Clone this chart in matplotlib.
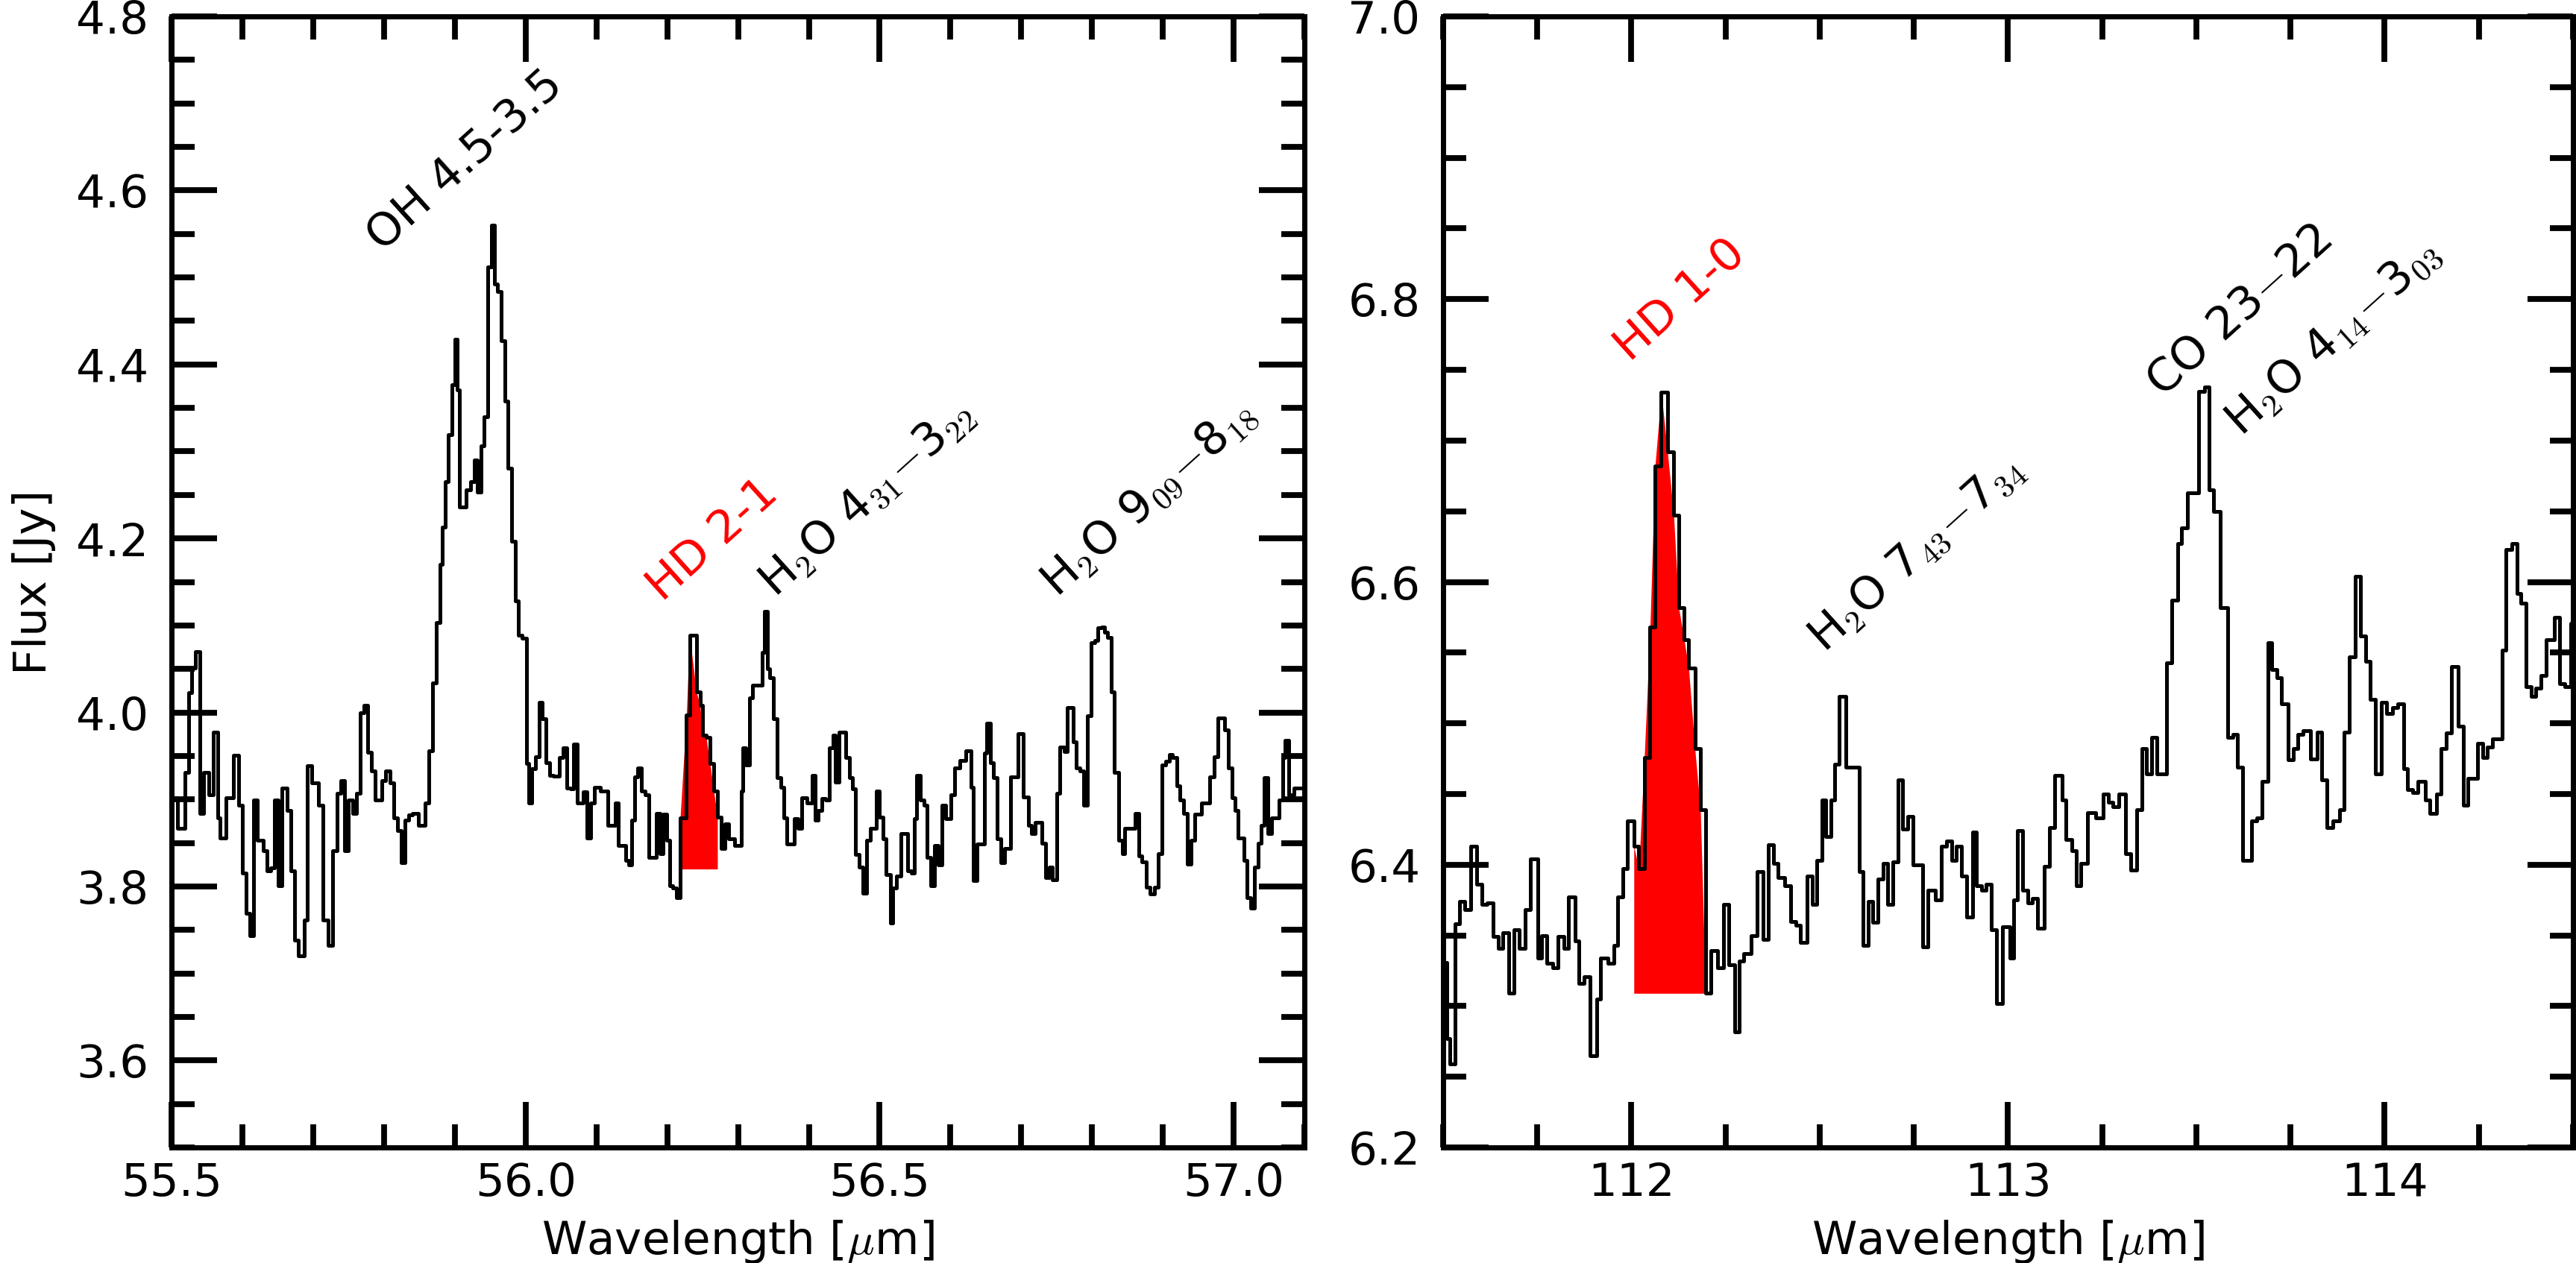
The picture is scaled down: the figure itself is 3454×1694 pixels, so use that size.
import numpy as np
import matplotlib
matplotlib.use("Agg")
import matplotlib.pyplot as plt
from matplotlib.ticker import MultipleLocator, FormatStrFormatter

plt.rcParams['font.family'] = ['DejaVu Sans']
plt.rcParams['mathtext.fontset'] = 'cm'

# --- left panel: 55.5 - 57.1 um (left edge of each step, flux in Jy) ---
wave_56 = [
    55.5000, 55.5088, 55.5193, 55.5246, 55.5288, 55.5333, 55.5404, 55.5456, 55.5526, 55.5589,
    55.5649, 55.5684, 55.5772, 55.5870, 55.5947, 55.6000, 55.6053, 55.6105, 55.6158, 55.6211,
    55.6298, 55.6351, 55.6404, 55.6456, 55.6509, 55.6561, 55.6632, 55.6684, 55.6737, 55.6789,
    55.6877, 55.6912, 55.6982, 55.7070, 55.7140, 55.7211, 55.7274, 55.7333, 55.7386, 55.7439,
    55.7491, 55.7561, 55.7614, 55.7667, 55.7719, 55.7772, 55.7825, 55.7877, 55.7965, 55.8018,
    55.8088, 55.8140, 55.8193, 55.8246, 55.8298, 55.8351, 55.8404, 55.8491, 55.8579, 55.8632,
    55.8684, 55.8737, 55.8789, 55.8825, 55.8860, 55.8912, 55.8965, 55.9000, 55.9035, 55.9067,
    55.9165, 55.9218, 55.9271, 55.9323, 55.9369, 55.9418, 55.9464, 55.9516, 55.9562, 55.9604,
    55.9657, 55.9709, 55.9755, 55.9804, 55.9853, 55.9902, 55.9951, 56.0008, 56.0043, 56.0088,
    56.0137, 56.0190, 56.0239, 56.0288, 56.0341, 56.0394, 56.0481, 56.0534, 56.0586, 56.0639,
    56.0681, 56.0727, 56.0815, 56.0867, 56.0920, 56.0972, 56.1060, 56.1165, 56.1264, 56.1306,
    56.1411, 56.1457, 56.1499, 56.1544, 56.1586, 56.1639, 56.1692, 56.1744, 56.1850, 56.1895,
    56.1937, 56.1990, 56.2036, 56.2078, 56.2130, 56.2183, 56.2271, 56.2316, 56.2411, 56.2464,
    56.2499, 56.2551, 56.2604, 56.2657, 56.2709, 56.2762, 56.2815, 56.2867, 56.2955, 56.3043,
    56.3067, 56.3113, 56.3165, 56.3208, 56.3341, 56.3369, 56.3418, 56.3446, 56.3499, 56.3551,
    56.3604, 56.3650, 56.3692, 56.3797, 56.3850, 56.3902, 56.3972, 56.4043, 56.4085, 56.4130,
    56.4183, 56.4236, 56.4288, 56.4341, 56.4376, 56.4429, 56.4516, 56.4569, 56.4611, 56.4657,
    56.4709, 56.4762, 56.4815, 56.4867, 56.4955, 56.4997, 56.5043, 56.5095, 56.5148, 56.5183,
    56.5236, 56.5299, 56.5393, 56.5446, 56.5488, 56.5523, 56.5579, 56.5622, 56.5674, 56.5727,
    56.5779, 56.5832, 56.5885, 56.5937, 56.6008, 56.6060, 56.6130, 56.6218, 56.6288, 56.6323,
    56.6376, 56.6481, 56.6516, 56.6569, 56.6604, 56.6657, 56.6709, 56.6762, 56.6850, 56.6955,
    56.7032, 56.7102, 56.7148, 56.7201, 56.7288, 56.7341, 56.7394, 56.7439, 56.7499, 56.7544,
    56.7604, 56.7650, 56.7737, 56.7779, 56.7832, 56.7885, 56.7930, 56.7990, 56.8043, 56.8085,
    56.8130, 56.8176, 56.8218, 56.8271, 56.8316, 56.8376, 56.8429, 56.8464, 56.8604, 56.8657,
    56.8702, 56.8762, 56.8815, 56.8885, 56.8937, 56.8983, 56.9043, 56.9088, 56.9137, 56.9194,
    56.9243, 56.9288, 56.9341, 56.9394, 56.9446, 56.9544, 56.9664, 56.9720, 56.9772, 56.9867,
    56.9920, 56.9972, 57.0015, 57.0060, 57.0148, 57.0190, 57.0236, 57.0288, 57.0341, 57.0386,
    57.0429, 57.0481, 57.0534, 57.0639, 57.0692, 57.0727, 57.0779, 57.0850, 57.1000,
]
flux_56 = [
    3.902, 3.867, 3.931, 4.023, 4.051, 4.070, 3.884, 3.931, 3.905, 3.977,
    3.879, 3.856, 3.902, 3.951, 3.893, 3.815, 3.769, 3.743, 3.899, 3.853,
    3.841, 3.818, 3.821, 3.899, 3.801, 3.913, 3.887, 3.818, 3.738, 3.720,
    3.761, 3.939, 3.919, 3.893, 3.761, 3.732, 3.841, 3.907, 3.922, 3.841,
    3.899, 3.884, 3.907, 4.000, 4.008, 3.954, 3.933, 3.899, 3.922, 3.933,
    3.919, 3.879, 3.864, 3.827, 3.876, 3.882, 3.884, 3.870, 3.896, 3.956,
    4.034, 4.103, 4.170, 4.213, 4.265, 4.319, 4.377, 4.429, 4.371, 4.236,
    4.256, 4.265, 4.290, 4.253, 4.306, 4.340, 4.512, 4.560, 4.492, 4.484,
    4.427, 4.358, 4.281, 4.197, 4.128, 4.089, 4.085, 3.941, 3.896, 3.935,
    3.949, 4.012, 3.993, 3.942, 3.928, 3.927, 3.948, 3.959, 3.913, 3.912,
    3.964, 3.896, 3.909, 3.856, 3.896, 3.914, 3.910, 3.870, 3.896, 3.847,
    3.830, 3.825, 3.876, 3.926, 3.936, 3.910, 3.905, 3.833, 3.884, 3.838,
    3.883, 3.853, 3.801, 3.798, 3.787, 3.879, 3.997, 4.089, 4.024, 4.008,
    3.974, 3.971, 3.941, 3.910, 3.880, 3.844, 3.872, 3.855, 3.847, 3.910,
    3.959, 3.940, 4.017, 4.031, 4.069, 4.116, 4.050, 4.040, 3.993, 3.925,
    3.914, 3.879, 3.849, 3.878, 3.867, 3.902, 3.896, 3.928, 3.876, 3.887,
    3.901, 3.899, 3.959, 3.974, 3.920, 3.977, 3.948, 3.925, 3.912, 3.837,
    3.822, 3.792, 3.853, 3.867, 3.910, 3.880, 3.855, 3.814, 3.758, 3.798,
    3.812, 3.861, 3.818, 3.815, 3.878, 3.928, 3.899, 3.893, 3.833, 3.801,
    3.847, 3.825, 3.893, 3.878, 3.905, 3.936, 3.945, 3.956, 3.914, 3.807,
    3.849, 3.953, 3.988, 3.942, 3.925, 3.855, 3.827, 3.844, 3.926, 3.976,
    3.903, 3.870, 3.861, 3.874, 3.850, 3.810, 3.822, 3.808, 3.907, 3.960,
    3.955, 4.006, 3.966, 3.936, 3.933, 3.893, 3.996, 4.080, 4.083, 4.097,
    4.098, 4.092, 4.086, 4.024, 3.931, 3.853, 3.838, 3.867, 3.884, 3.835,
    3.828, 3.799, 3.791, 3.799, 3.838, 3.940, 3.944, 3.952, 3.948, 3.916,
    3.899, 3.884, 3.826, 3.853, 3.883, 3.896, 3.926, 3.949, 3.994, 3.980,
    3.936, 3.902, 3.887, 3.856, 3.830, 3.787, 3.775, 3.822, 3.850, 3.870,
    3.925, 3.861, 3.879, 3.899, 3.948, 3.968, 3.905, 3.913, 3.913,
]

# --- right panel: 111.5 - 114.5 um ---
wave_112 = [
    111.5006, 111.5092, 111.5172, 111.5317, 111.5436, 111.5568, 111.5734, 111.5899, 111.6031, 111.6164,
    111.6329, 111.6461, 111.6594, 111.6746, 111.6891, 111.7024, 111.7189, 111.7321, 111.7519, 111.7619,
    111.7751, 111.7916, 111.8049, 111.8214, 111.8333, 111.8512, 111.8611, 111.8743, 111.8908, 111.9074,
    111.9173, 111.9371, 111.9537, 111.9636, 111.9768, 111.9900, 112.0066, 112.0198, 112.0344, 112.0496,
    112.0628, 112.0793, 112.0959, 112.1124, 112.1256, 112.1402, 112.1521, 112.1686, 112.1832, 112.1971,
    112.2116, 112.2281, 112.2447, 112.2578, 112.2744, 112.2856, 112.2975, 112.3173, 112.3339, 112.3504,
    112.3636, 112.3769, 112.3901, 112.4066, 112.4232, 112.4364, 112.4496, 112.4662, 112.4794, 112.4926,
    112.5058, 112.5158, 112.5290, 112.5389, 112.5521, 112.5687, 112.6050, 112.6150, 112.6282, 112.6414,
    112.6546, 112.6679, 112.6811, 112.6943, 112.7076, 112.7208, 112.7340, 112.7473, 112.7737, 112.7869,
    112.8068, 112.8233, 112.8366, 112.8498, 112.8630, 112.8762, 112.8895, 112.9060, 112.9159, 112.9291,
    112.9424, 112.9556, 112.9688, 112.9853, 113.0052, 113.0151, 113.0251, 113.0396, 113.0528, 113.0647,
    113.0780, 113.0965, 113.1110, 113.1243, 113.1441, 113.1540, 113.1692, 113.1805, 113.1937, 113.2116,
    113.2334, 113.2532, 113.2665, 113.2777, 113.2949, 113.3128, 113.3260, 113.3425, 113.3557, 113.3677,
    113.3822, 113.3954, 113.4219, 113.4351, 113.4516, 113.4616, 113.4761, 113.5065, 113.5211, 113.5330,
    113.5462, 113.5641, 113.5839, 113.5971, 113.6084, 113.6236, 113.6467, 113.6600, 113.6745, 113.6897,
    113.7010, 113.7142, 113.7261, 113.7446, 113.7572, 113.7704, 113.7837, 113.8035, 113.8220, 113.8333,
    113.8465, 113.8630, 113.8796, 113.8928, 113.9060, 113.9226, 113.9358, 113.9490, 113.9623, 113.9755,
    113.9920, 114.0052, 114.0218, 114.0350, 114.0515, 114.0615, 114.0747, 114.0879, 114.1077, 114.1210,
    114.1375, 114.1507, 114.1640, 114.1772, 114.1950, 114.2083, 114.2215, 114.2466, 114.2599, 114.2731,
    114.2863, 114.3114, 114.3227, 114.3379, 114.3525, 114.3624, 114.3757, 114.3889, 114.4021, 114.4153,
    114.4286, 114.4517, 114.4649, 114.4782, 114.4947, 114.5100,
]
flux_112 = [
    6.331, 6.277, 6.259, 6.358, 6.374, 6.368, 6.413, 6.386, 6.372, 6.373,
    6.349, 6.341, 6.352, 6.309, 6.354, 6.341, 6.368, 6.404, 6.334, 6.350,
    6.330, 6.327, 6.349, 6.341, 6.377, 6.346, 6.316, 6.321, 6.265, 6.305,
    6.334, 6.330, 6.343, 6.377, 6.397, 6.431, 6.413, 6.397, 6.476, 6.568,
    6.682, 6.734, 6.692, 6.647, 6.582, 6.559, 6.539, 6.482, 6.439, 6.309,
    6.339, 6.327, 6.372, 6.329, 6.282, 6.332, 6.337, 6.350, 6.395, 6.347,
    6.414, 6.401, 6.391, 6.385, 6.360, 6.357, 6.345, 6.392, 6.372, 6.403,
    6.446, 6.420, 6.446, 6.471, 6.519, 6.469, 6.395, 6.343, 6.374, 6.359,
    6.390, 6.401, 6.372, 6.402, 6.460, 6.425, 6.434, 6.400, 6.342, 6.382,
    6.375, 6.413, 6.417, 6.403, 6.413, 6.392, 6.363, 6.423, 6.385, 6.382,
    6.386, 6.354, 6.302, 6.356, 6.334, 6.375, 6.424, 6.382, 6.373, 6.376,
    6.355, 6.399, 6.426, 6.463, 6.446, 6.418, 6.410, 6.385, 6.401, 6.437,
    6.433, 6.450, 6.444, 6.441, 6.450, 6.408, 6.396, 6.439, 6.482, 6.464,
    6.490, 6.464, 6.543, 6.587, 6.627, 6.638, 6.663, 6.735, 6.738, 6.665,
    6.650, 6.582, 6.490, 6.492, 6.469, 6.403, 6.431, 6.433, 6.459, 6.557,
    6.538, 6.532, 6.514, 6.474, 6.482, 6.492, 6.495, 6.475, 6.494, 6.460,
    6.426, 6.431, 6.439, 6.494, 6.547, 6.604, 6.562, 6.544, 6.517, 6.464,
    6.515, 6.507, 6.511, 6.514, 6.468, 6.453, 6.451, 6.459, 6.446, 6.436,
    6.450, 6.482, 6.493, 6.540, 6.498, 6.442, 6.461, 6.486, 6.476, 6.483,
    6.489, 6.552, 6.623, 6.627, 6.592, 6.585, 6.526, 6.519, 6.525, 6.534,
    6.559, 6.575, 6.528, 6.526, 6.571, 6.571,
]

# HD line ranges that get the red fill: (start, end, baseline)
hd21_fill = (56.218, 56.272, 3.82)
hd10_fill = (112.005, 112.198, 6.309)

# line labels: (text, wavelength, flux, colour)
labels_56 = [
    ('OH 4.5-3.5', 55.915, 4.634, 'black'),
    ('HD 2-1', 56.265, 4.198, 'red'),
    (r'H$_2$O 4$_{31}$$-$3$_{22}$', 56.482, 4.246, 'black'),
    (r'H$_2$O 9$_{09}$$-$8$_{18}$', 56.880, 4.246, 'black'),
]
labels_112 = [
    ('HD 1-0', 112.13, 6.799, 'red'),
    (r'H$_2$O 7$_{43}$$-$7$_{34}$', 112.757, 6.620, 'black'),
    (r'CO 23$-$22', 113.614, 6.791, 'black'),
    (r'H$_2$O 4$_{14}$$-$3$_{03}$', 113.862, 6.773, 'black'),
]

FS = 22


def style_axis(ax):
    for s in ax.spines.values():
        s.set_linewidth(2.5)
    ax.tick_params(which='both', direction='in', top=True, right=True,
                   labelsize=FS, width=2.8)
    ax.tick_params(which='major', length=22)
    ax.tick_params(which='minor', length=11)
    ax.tick_params(axis='x', pad=7)
    ax.tick_params(axis='y', pad=11)


def draw_panel(ax, wave, flux, fill, labels):
    wave = np.array(wave)
    flux = np.array(flux)
    ax.plot(wave, flux, drawstyle='steps-post', color='black', lw=1.8)
    lo, hi, base = fill
    m = (wave >= lo) & (wave <= hi)
    ax.fill_between(wave[m], base, flux[m], color='red', lw=0)
    for txt, x, y, c in labels:
        ax.text(x, y, txt, color=c, fontsize=FS, rotation=42,
                ha='center', va='center', rotation_mode='anchor')


fig = plt.figure(figsize=(17.27, 8.47), dpi=200)
ax1 = fig.add_axes([0.0666, 0.0915, 0.4398, 0.8955])
ax2 = fig.add_axes([0.5602, 0.0915, 0.4386, 0.8955])

draw_panel(ax1, wave_56, flux_56, hd21_fill, labels_56)
ax1.set_xlim(55.5, 57.1)
ax1.set_ylim(3.5, 4.8)
ax1.xaxis.set_major_locator(MultipleLocator(0.5))
ax1.xaxis.set_minor_locator(MultipleLocator(0.1))
ax1.yaxis.set_major_locator(MultipleLocator(0.2))
ax1.yaxis.set_minor_locator(MultipleLocator(0.05))
ax1.xaxis.set_major_formatter(FormatStrFormatter('%.1f'))
ax1.yaxis.set_major_formatter(FormatStrFormatter('%.1f'))
ax1.set_xlabel(r'Wavelength [$\mu$m]', fontsize=FS, labelpad=6)
ax1.set_ylabel('Flux [Jy]', fontsize=FS, labelpad=10)
style_axis(ax1)

draw_panel(ax2, wave_112, flux_112, hd10_fill, labels_112)
ax2.set_xlim(111.5, 114.5)
ax2.set_ylim(6.2, 7.0)
ax2.xaxis.set_major_locator(MultipleLocator(1.0))
ax2.xaxis.set_minor_locator(MultipleLocator(0.25))
ax2.yaxis.set_major_locator(MultipleLocator(0.2))
ax2.yaxis.set_minor_locator(MultipleLocator(0.05))
ax2.xaxis.set_major_formatter(FormatStrFormatter('%d'))
ax2.yaxis.set_major_formatter(FormatStrFormatter('%.1f'))
ax2.set_xlabel(r'Wavelength [$\mu$m]', fontsize=FS, labelpad=6)
style_axis(ax2)

fig.savefig('out.png', dpi=200)
